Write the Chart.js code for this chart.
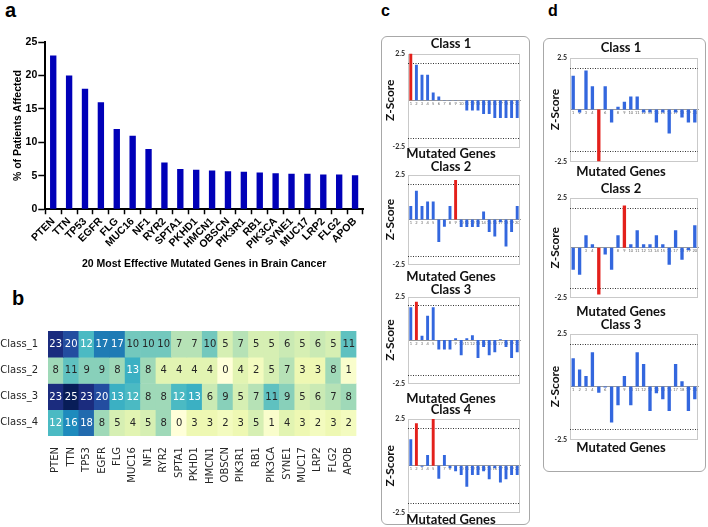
<!DOCTYPE html>
<html>
<head>
<meta charset="utf-8">
<script src="https://cdn.jsdelivr.net/npm/chart.js@4"></script>
<style>
  body { margin: 0; background: #fff; width: 708px; height: 527px; position: relative; overflow: hidden; }
  canvas, .lbl, .box { position: absolute; }
  .lbl { font-family: 'Liberation Sans', Arial, sans-serif; font-weight: bold; line-height: 1; color: #000; }
  .box { border: 1px solid #a8a8a8; border-radius: 6px; box-sizing: border-box; }
</style>
</head>
<body>
<div class="lbl" style="left:5px; top:0px; font-size:20px;">a</div>
<div class="lbl" style="left:12px; top:288px; font-size:20px;">b</div>
<div class="lbl" style="left:381px; top:3px; font-size:16px;">c</div>
<div class="lbl" style="left:548px; top:3px; font-size:16px;">d</div>
<div class="box" style="left:381px; top:36px; width:149px; height:489px;"></div>
<div class="box" style="left:543px; top:38px; width:163px; height:434px;"></div>

<canvas id="chartA" style="left:0px; top:30px;" width="372" height="240"></canvas>
<canvas id="chartB" style="left:0px; top:315px;" width="372" height="180"></canvas>
<canvas id="c1"></canvas>
<canvas id="c2"></canvas>
<canvas id="c3"></canvas>
<canvas id="c4"></canvas>
<canvas id="d1"></canvas>
<canvas id="d2"></canvas>
<canvas id="d3"></canvas>

<script>
// --- panel a ---
const genes = ['PTEN', 'TTN', 'TP53', 'EGFR', 'FLG', 'MUC16', 'NF1', 'RYR2', 'SPTA1', 'PKHD1',
  'HMCN1', 'OBSCN', 'PIK3R1', 'RB1', 'PIK3CA', 'SYNE1', 'MUC17', 'LRP2', 'FLG2', 'APOB'];
const patientsAffected = [23, 20, 18, 16, 12, 11, 9, 7, 6, 5.9, 5.8, 5.7, 5.6, 5.5, 5.4, 5.3, 5.3, 5.2, 5.2, 5.1];

// --- panel b ---
const classNames = ['Class_1', 'Class_2', 'Class_3', 'Class_4'];
const class1Counts = [23, 20, 12, 17, 17, 10, 10, 10, 7, 7, 10, 5, 7, 5, 5, 6, 5, 6, 5, 11];
const class2Counts = [8, 11, 9, 9, 8, 13, 8, 4, 4, 4, 4, 0, 4, 2, 5, 7, 3, 3, 8, 1];
const class3Counts = [23, 25, 23, 20, 13, 12, 8, 8, 12, 13, 6, 9, 5, 7, 11, 9, 5, 6, 7, 8];
const class4Counts = [12, 16, 18, 8, 5, 4, 5, 8, 0, 3, 3, 2, 3, 5, 1, 4, 3, 2, 3, 2];

// --- panels c and d (z-scores of genes 1..20) ---
const geneNumbers = ['1', '2', '3', '4', '5', '6', '7', '8', '9', '10',
  '11', '12', '13', '14', '15', '16', '17', '18', '19', '20'];
const zC1 = [2.5, 1.9, 1.36, 1.36, 0.42, 0.2, 0.02, 0.02, 0.02, 0.02, -0.55, -0.55, -0.55, -0.74, -0.74, -0.95, -0.95, -0.95, -0.95, -0.95];
const zC2 = [0.75, 1.6, 0.75, 1.0, 1.0, -1.25, -0.4, 0.75, 2.2, -0.42, -0.42, -0.42, -0.42, 0.45, -0.7, -0.95, -0.15, -1.5, -0.7, 0.75];
const zC3 = [1.88, 2.2, 0.25, 1.4, 1.88, -0.55, -0.55, -0.55, 0.1, -0.87, 0.1, 0.27, -1.03, -0.4, -0.87, -0.7, 0.05, -0.4, -1.03, -0.7];
const zC4 = [1.42, 2.27, -0.05, 0.58, 2.5, -0.7, 0.58, -0.13, -0.3, -0.5, -1.12, -0.5, -0.5, -0.3, -0.72, -0.13, -0.9, -0.72, -0.5, -0.5];
const zD1 = [1.62, -0.15, 1.88, 1.12, -2.5, 1.12, -0.63, 0.13, 0.37, 0.62, 0.62, -0.15, -0.15, -0.63, -0.15, -1.15, -0.15, -0.39, -0.63, -0.63];
const zD2 = [-1.1, -1.36, 0.63, 0.17, -2.35, -0.34, -1.1, 0.63, 2.12, 0.17, 0.88, 0.17, 0.17, 0.63, 0.17, -0.85, 0.88, -0.6, -0.12, 1.13];
const zD3 = [1.33, 0.8, 0.5, 1.62, -0.3, -0.05, -1.7, -0.88, 0.5, -0.88, 1.62, 1.06, -1.15, -0.32, -0.6, -1.15, 1.06, 0.25, -1.15, -0.6];
// indices of the red (significant) bars
const hiC1 = [0], hiC2 = [8], hiC3 = [1], hiC4 = [1, 4];
const hiD1 = [4], hiD2 = [4, 8], hiD3 = [];
const zThreshold = 2;

const arial = 'Liberation Sans, Arial, sans-serif';
const lato = 'Lato, Open Sans, sans-serif';

// ---------- a: bar chart ----------
new Chart(document.getElementById('chartA'), {
  type: 'bar',
  data: {
    labels: genes,
    datasets: [{ data: patientsAffected, backgroundColor: '#0000b8', barPercentage: 0.4, categoryPercentage: 1 }]
  },
  options: {
    responsive: false, animation: false, devicePixelRatio: 1,
    layout: { padding: { left: 12, right: 9, top: 12, bottom: 0 } },
    plugins: { legend: { display: false }, tooltip: { enabled: false } },
    scales: {
      x: {
        grid: { display: true, drawOnChartArea: false, tickLength: 5, tickColor: '#000', tickWidth: 1.5 },
        border: { color: '#000', width: 2 },
        ticks: { color: '#000', font: { family: arial, size: 10.5, weight: 'bold' }, minRotation: 45, maxRotation: 45, autoSkip: false, padding: 1 },
        title: { display: true, text: '20 Most Effective Mutated Genes in Brain Cancer', color: '#000',
          font: { family: arial, size: 10.5, weight: 'bold' }, padding: { top: 5, bottom: 0 } }
      },
      y: {
        min: 0, max: 25,
        ticks: { stepSize: 5, color: '#000', font: { family: arial, size: 10.5, weight: 'bold' }, padding: 1 },
        grid: { display: true, drawOnChartArea: false, tickLength: 7, tickColor: '#000', tickWidth: 1.5 },
        border: { color: '#000', width: 2 },
        title: { display: true, text: '% of Patients Affected', color: '#000',
          font: { family: arial, size: 10.5, weight: 'bold' }, padding: { top: 0, bottom: 0 } }
      }
    }
  }
});

// ---------- b: heatmap (YlGnBu) ----------
const ylgnbu = ['#ffffd9', '#edf8b1', '#c7e9b4', '#7fcdbb', '#41b6c4', '#1d91c0', '#225ea8', '#253494', '#081d58'];
const heatRows = [class1Counts, class2Counts, class3Counts, class4Counts];
const heatMax = Math.max(...heatRows.flat());

function hexRgb(h) {
  return [1, 3, 5].map(i => parseInt(h.slice(i, i + 2), 16));
}
function heatColor(v) {
  const t = Math.max(0, Math.min(1, v / heatMax)) * (ylgnbu.length - 1);
  const i = Math.min(Math.floor(t), ylgnbu.length - 2);
  const f = t - i;
  const a = hexRgb(ylgnbu[i]), b = hexRgb(ylgnbu[i + 1]);
  const c = a.map((x, k) => Math.round(x + (b[k] - x) * f));
  return `rgb(${c[0]},${c[1]},${c[2]})`;
}

const cellText = {
  id: 'cellText',
  afterDatasetsDraw(chart) {
    const ctx = chart.ctx;
    ctx.save();
    ctx.font = '10px "DejaVu Sans"';
    ctx.textAlign = 'center';
    ctx.textBaseline = 'middle';
    chart.data.datasets.forEach((ds, i) => {
      chart.getDatasetMeta(i).data.forEach((bar, j) => {
        const v = ds.counts[j];
        ctx.fillStyle = v >= 12 ? '#ffffff' : '#262626';
        ctx.fillText(String(v), bar.x, (bar.y + bar.base) / 2 + 0.5);
      });
    });
    ctx.restore();
  }
};

new Chart(document.getElementById('chartB'), {
  type: 'bar',
  data: {
    labels: genes,
    datasets: heatRows.map((row, i) => ({
      label: classNames[i],
      counts: row,
      data: row.map(() => 1),
      backgroundColor: row.map(heatColor),
      borderWidth: 0,
      barPercentage: 1,
      categoryPercentage: 1,
      stack: 'rows'
    }))
  },
  options: {
    responsive: false, animation: false, devicePixelRatio: 1,
    layout: { padding: { left: 0, right: 10, top: 11, bottom: 0 } },
    plugins: { legend: { display: false }, tooltip: { enabled: false } },
    scales: {
      x: {
        stacked: true,
        grid: { display: false, drawTicks: false },
        border: { display: false },
        ticks: { color: '#262626', font: { family: 'DejaVu Sans', size: 10 }, minRotation: 90, maxRotation: 90, autoSkip: false, padding: 11 }
      },
      y: {
        stacked: true, min: 0, max: 4, reverse: true,
        afterBuildTicks: s => { s.ticks = [0.5, 1.5, 2.5, 3.5].map(v => ({ value: v })); },
        afterFit: s => { s.width = 48; },
        grid: { display: false, drawTicks: false },
        border: { display: false },
        ticks: { color: '#262626', font: { family: 'DejaVu Sans', size: 10 }, padding: 10,
          callback: (v, i) => classNames[i] }
      }
    }
  },
  plugins: [cellText]
});

// ---------- c, d: z-score bar charts ----------
const zBlue = '#3367de';
const zRed = '#e3201b';

const zFrame = {
  id: 'zFrame',
  beforeDatasetsDraw(chart) {
    const { ctx, chartArea: a, scales: { y } } = chart;
    ctx.save();
    ctx.strokeStyle = '#c9c9c9';
    ctx.lineWidth = 1;
    ctx.strokeRect(Math.round(a.left) + 0.5, Math.round(a.top) + 0.5, Math.round(a.width) - 1, Math.round(a.height) - 1);
    ctx.strokeStyle = '#333';
    ctx.setLineDash([1, 1.5]);
    [zThreshold, -zThreshold].forEach(v => {
      const py = Math.round(y.getPixelForValue(v)) + 0.5;
      ctx.beginPath();
      ctx.moveTo(a.left, py);
      ctx.lineTo(a.right, py);
      ctx.stroke();
    });
    ctx.restore();
  }
};

function zScoreChart(id, box, title, values, highlight) {
  const canvas = document.getElementById(id);
  const top = box.titleY - 7;
  const titleGap = Math.max(0, box.plotTop - top - 13.5);
  const subGap = Math.max(0, box.subY - 6.5 - box.plotBottom);
  const height = Math.round(box.plotBottom - top + subGap + 14);
  canvas.width = box.width;
  canvas.height = height;
  canvas.style.left = box.left + 'px';
  canvas.style.top = top + 'px';

  new Chart(canvas, {
    type: 'bar',
    data: {
      labels: geneNumbers,
      datasets: [{
        data: values,
        backgroundColor: values.map((v, i) => highlight.includes(i) ? zRed : zBlue),
        barPercentage: 0.52,
        categoryPercentage: 1
      }]
    },
    options: {
      responsive: false, animation: false, devicePixelRatio: 1,
      layout: { padding: { left: 0, right: box.left + box.width - box.plotRight, top: 0, bottom: 0 } },
      plugins: {
        legend: { display: false }, tooltip: { enabled: false },
        title: { display: true, text: title, color: '#111',
          font: { family: lato, size: 13, weight: 'bold', lineHeight: 1 }, padding: { top: 0.5, bottom: titleGap } },
        subtitle: { display: true, position: 'bottom', text: 'Mutated Genes', color: '#111',
          font: { family: lato, size: 13, weight: 'bold', lineHeight: 1 }, padding: { top: subGap, bottom: 1 } }
      },
      scales: {
        x: {
          position: { y: 0 }, offset: true,
          grid: { display: true, drawOnChartArea: false, drawTicks: false },
          border: { color: '#999', width: 1, dash: [1, 1] },
          ticks: { color: '#666', font: { family: lato, size: 4 }, padding: 1, autoSkip: false, minRotation: 0, maxRotation: 0 }
        },
        y: {
          min: -2.5, max: 2.5,
          afterBuildTicks: s => { s.ticks = [{ value: -2.5 }, { value: 2.5 }]; },
          afterFit: s => { s.width = box.plotLeft - box.left; },
          grid: { display: false, drawTicks: false },
          border: { display: false },
          ticks: { color: '#222', font: { family: lato, size: 7, weight: 'bold' }, padding: 3, callback: v => String(v) },
          title: { display: true, text: 'Z-Score', color: '#111',
            font: { family: lato, size: 12, weight: 'bold', lineHeight: 1 },
            padding: { top: box.zTitleX - box.left - 6, bottom: 0 } }
        }
      }
    },
    plugins: [zFrame]
  });
}

const cBox = { left: 382, width: 146, plotLeft: 408, plotRight: 520, zTitleX: 390 };
const dBox = { left: 544, width: 161, plotLeft: 570, plotRight: 698, zTitleX: 555 };

zScoreChart('c1', { ...cBox, titleY: 43.5, plotTop: 53, plotBottom: 146, subY: 152.5 }, 'Class 1', zC1, hiC1);
zScoreChart('c2', { ...cBox, titleY: 166.5, plotTop: 174, plotBottom: 264, subY: 276 }, 'Class 2', zC2, hiC2);
zScoreChart('c3', { ...cBox, titleY: 289.5, plotTop: 296, plotBottom: 383, subY: 398 }, 'Class 3', zC3, hiC3);
zScoreChart('c4', { ...cBox, titleY: 410, plotTop: 419, plotBottom: 512, subY: 519 }, 'Class 4', zC4, hiC4);
zScoreChart('d1', { ...dBox, titleY: 47.5, plotTop: 57, plotBottom: 160.5, subY: 170.5 }, 'Class 1', zD1, hiD1);
zScoreChart('d2', { ...dBox, titleY: 188.5, plotTop: 197.5, plotBottom: 296.5, subY: 310.5 }, 'Class 2', zD2, hiD2);
zScoreChart('d3', { ...dBox, titleY: 325, plotTop: 333.5, plotBottom: 439, subY: 447 }, 'Class 3', zD3, hiD3);
</script>
</body>
</html>
